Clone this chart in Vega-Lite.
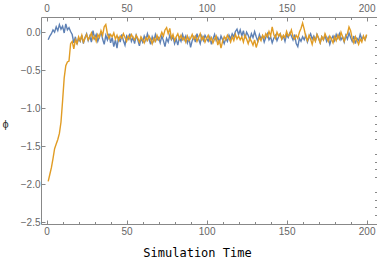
{
"$schema":"https://vega.github.io/schema/vega-lite/v6.json",
"autosize":"none",
"width":336,"height":207,
"padding":{"left":41,"top":17,"right":0,"bottom":35},
"config":{"view":{"stroke":null},"axis":{"grid":false,"domainColor":"#888","tickColor":"#888","labelColor":"#666","labelFont":"Liberation Sans","labelFontSize":10,"domainWidth":1,"tickWidth":1}},
"datasets":{"d":[
{"t":1,"b":-0.10,"o":-1.96},{"t":2,"b":-0.05,"o":-1.87},{"t":3,"b":-0.02,"o":-1.78},{"t":4,"b":0.03,"o":-1.66},{"t":5,"b":0.00,"o":-1.53},{"t":6,"b":0.07,"o":-1.47},{"t":7,"b":0.02,"o":-1.41},{"t":8,"b":0.10,"o":-1.33},{"t":9,"b":0.04,"o":-1.18},{"t":10,"b":0.08,"o":-0.90},
{"t":11,"b":-0.01,"o":-0.60},{"t":12,"b":0.11,"o":-0.44},{"t":13,"b":0.03,"o":-0.39},{"t":14,"b":0.06,"o":-0.38},{"t":15,"b":0.01,"o":-0.15},{"t":16,"b":-0.03,"o":-0.12},{"t":17,"b":-0.14,"o":-0.22},{"t":18,"b":-0.06,"o":-0.10},{"t":19,"b":-0.16,"o":-0.15},{"t":20,"b":-0.08,"o":-0.06},
{"t":21,"b":-0.12,"o":-0.11},{"t":22,"b":-0.04,"o":-0.04},{"t":23,"b":-0.15,"o":-0.13},{"t":24,"b":-0.07,"o":-0.08},{"t":25,"b":-0.02,"o":-0.03},{"t":26,"b":-0.11,"o":-0.10},{"t":27,"b":-0.05,"o":-0.06},{"t":28,"b":-0.13,"o":-0.01},{"t":29,"b":0.02,"o":-0.09},{"t":30,"b":-0.08,"o":-0.05},
{"t":31,"b":-0.03,"o":-0.12},{"t":32,"b":-0.12,"o":-0.03},{"t":33,"b":-0.06,"o":-0.07},{"t":34,"b":0.01,"o":0.02},{"t":35,"b":-0.09,"o":-0.04},{"t":36,"b":-0.16,"o":0.07},{"t":37,"b":-0.04,"o":0.10},{"t":38,"b":-0.10,"o":-0.02},{"t":39,"b":-0.02,"o":-0.08},{"t":40,"b":-0.14,"o":-0.03},
{"t":41,"b":-0.07,"o":-0.06},{"t":42,"b":-0.19,"o":-0.01},{"t":43,"b":-0.10,"o":-0.09},{"t":44,"b":-0.21,"o":-0.04},{"t":45,"b":-0.06,"o":-0.11},{"t":46,"b":-0.13,"o":-0.05},{"t":47,"b":-0.03,"o":-0.08},{"t":48,"b":-0.11,"o":-0.02},{"t":49,"b":-0.17,"o":-0.07},{"t":50,"b":-0.05,"o":-0.12},
{"t":51,"b":-0.09,"o":-0.05},{"t":52,"b":-0.02,"o":-0.09},{"t":53,"b":-0.12,"o":-0.03},{"t":54,"b":-0.07,"o":-0.07},{"t":55,"b":-0.15,"o":-0.10},{"t":56,"b":-0.04,"o":-0.04},{"t":57,"b":-0.10,"o":-0.08},{"t":58,"b":-0.18,"o":-0.13},{"t":59,"b":-0.08,"o":-0.06},{"t":60,"b":-0.13,"o":-0.10},
{"t":61,"b":-0.05,"o":-0.14},{"t":62,"b":-0.11,"o":-0.07},{"t":63,"b":-0.02,"o":-0.11},{"t":64,"b":-0.09,"o":-0.05},{"t":65,"b":-0.16,"o":-0.09},{"t":66,"b":-0.06,"o":-0.15},{"t":67,"b":-0.12,"o":-0.08},{"t":68,"b":-0.03,"o":-0.12},{"t":69,"b":-0.10,"o":-0.04},{"t":70,"b":-0.07,"o":-0.10},
{"t":71,"b":-0.14,"o":-0.06},{"t":72,"b":-0.05,"o":0.00},{"t":73,"b":-0.11,"o":-0.05},{"t":74,"b":-0.19,"o":0.03},{"t":75,"b":-0.08,"o":0.06},{"t":76,"b":-0.13,"o":-0.02},{"t":77,"b":-0.04,"o":0.05},{"t":78,"b":-0.10,"o":-0.08},{"t":79,"b":-0.06,"o":-0.03},{"t":80,"b":-0.15,"o":-0.11},
{"t":81,"b":-0.09,"o":-0.06},{"t":82,"b":-0.17,"o":-0.02},{"t":83,"b":-0.07,"o":-0.09},{"t":84,"b":-0.12,"o":-0.04},{"t":85,"b":-0.03,"o":-0.10},{"t":86,"b":-0.10,"o":-0.07},{"t":87,"b":-0.05,"o":-0.13},{"t":88,"b":-0.14,"o":-0.05},{"t":89,"b":-0.08,"o":-0.11},{"t":90,"b":-0.20,"o":-0.08},
{"t":91,"b":-0.11,"o":-0.03},{"t":92,"b":-0.06,"o":-0.09},{"t":93,"b":-0.13,"o":-0.05},{"t":94,"b":-0.02,"o":-0.12},{"t":95,"b":-0.09,"o":-0.07},{"t":96,"b":-0.15,"o":-0.02},{"t":97,"b":-0.05,"o":-0.10},{"t":98,"b":-0.11,"o":-0.06},{"t":99,"b":-0.04,"o":-0.13},{"t":100,"b":-0.08,"o":-0.08},
{"t":101,"b":-0.12,"o":-0.04},{"t":102,"b":-0.06,"o":-0.11},{"t":103,"b":-0.16,"o":-0.07},{"t":104,"b":-0.09,"o":-0.14},{"t":105,"b":-0.03,"o":-0.09},{"t":106,"b":-0.11,"o":-0.05},{"t":107,"b":-0.07,"o":-0.17},{"t":108,"b":-0.13,"o":-0.10},{"t":109,"b":-0.05,"o":-0.21},{"t":110,"b":-0.10,"o":-0.12},
{"t":111,"b":-0.15,"o":-0.06},{"t":112,"b":-0.08,"o":-0.10},{"t":113,"b":-0.12,"o":-0.04},{"t":114,"b":-0.04,"o":-0.08},{"t":115,"b":-0.09,"o":-0.13},{"t":116,"b":-0.02,"o":-0.06},{"t":117,"b":-0.06,"o":-0.11},{"t":118,"b":0.01,"o":-0.03},{"t":119,"b":0.04,"o":-0.09},{"t":120,"b":-0.03,"o":-0.05},
{"t":121,"b":0.03,"o":-0.10},{"t":122,"b":-0.05,"o":-0.06},{"t":123,"b":0.02,"o":-0.13},{"t":124,"b":-0.08,"o":-0.04},{"t":125,"b":0.00,"o":-0.09},{"t":126,"b":-0.04,"o":-0.15},{"t":127,"b":-0.10,"o":-0.08},{"t":128,"b":-0.02,"o":-0.12},{"t":129,"b":-0.07,"o":-0.17},{"t":130,"b":0.01,"o":-0.10},
{"t":131,"b":-0.06,"o":-0.20},{"t":132,"b":-0.12,"o":-0.13},{"t":133,"b":-0.03,"o":-0.07},{"t":134,"b":-0.09,"o":-0.11},{"t":135,"b":-0.05,"o":-0.04},{"t":136,"b":-0.13,"o":-0.08},{"t":137,"b":-0.07,"o":-0.02},{"t":138,"b":-0.02,"o":-0.06},{"t":139,"b":-0.10,"o":0.01},{"t":140,"b":-0.06,"o":-0.05},
{"t":141,"b":-0.14,"o":0.07},{"t":142,"b":-0.08,"o":-0.03},{"t":143,"b":-0.04,"o":-0.08},{"t":144,"b":-0.11,"o":0.00},{"t":145,"b":-0.06,"o":-0.05},{"t":146,"b":-0.02,"o":-0.02},{"t":147,"b":-0.09,"o":-0.09},{"t":148,"b":-0.05,"o":-0.04},{"t":149,"b":-0.12,"o":-0.07},{"t":150,"b":-0.03,"o":0.01},
{"t":151,"b":-0.07,"o":-0.05},{"t":152,"b":-0.01,"o":-0.03},{"t":153,"b":-0.05,"o":0.03},{"t":154,"b":-0.10,"o":-0.06},{"t":155,"b":-0.03,"o":-0.09},{"t":156,"b":-0.15,"o":-0.04},{"t":157,"b":-0.19,"o":-0.08},{"t":158,"b":-0.08,"o":0.00},{"t":159,"b":-0.12,"o":0.05},{"t":160,"b":-0.06,"o":0.12},
{"t":161,"b":-0.10,"o":0.04},{"t":162,"b":-0.04,"o":-0.06},{"t":163,"b":-0.13,"o":-0.11},{"t":164,"b":-0.07,"o":-0.04},{"t":165,"b":-0.02,"o":-0.09},{"t":166,"b":-0.09,"o":-0.16},{"t":167,"b":-0.05,"o":-0.07},{"t":168,"b":-0.11,"o":-0.12},{"t":169,"b":-0.03,"o":-0.03},{"t":170,"b":-0.08,"o":-0.08},
{"t":171,"b":-0.14,"o":-0.14},{"t":172,"b":-0.06,"o":-0.06},{"t":173,"b":-0.10,"o":-0.10},{"t":174,"b":-0.04,"o":-0.02},{"t":175,"b":-0.12,"o":-0.07},{"t":176,"b":-0.07,"o":-0.12},{"t":177,"b":-0.16,"o":-0.05},{"t":178,"b":-0.09,"o":-0.09},{"t":179,"b":-0.05,"o":-0.14},{"t":180,"b":-0.11,"o":-0.06},
{"t":181,"b":-0.03,"o":-0.11},{"t":182,"b":-0.08,"o":-0.04},{"t":183,"b":-0.02,"o":-0.09},{"t":184,"b":-0.10,"o":0.00},{"t":185,"b":-0.06,"o":-0.06},{"t":186,"b":-0.13,"o":-0.12},{"t":187,"b":-0.04,"o":-0.05},{"t":188,"b":-0.09,"o":-0.02},{"t":189,"b":-0.01,"o":0.07},{"t":190,"b":-0.07,"o":0.02},
{"t":191,"b":-0.12,"o":-0.08},{"t":192,"b":-0.05,"o":-0.14},{"t":193,"b":-0.15,"o":-0.06},{"t":194,"b":-0.08,"o":-0.11},{"t":195,"b":-0.11,"o":-0.16},{"t":196,"b":-0.03,"o":-0.09},{"t":197,"b":-0.09,"o":-0.13},{"t":198,"b":-0.06,"o":-0.05},{"t":199,"b":-0.10,"o":-0.10},{"t":200,"b":-0.04,"o":-0.03}
]},
"data":{"name":"d"},
"layer":[
{"mark":{"type":"line","color":"#5E81B5","strokeWidth":1.4,"clip":true},
 "encoding":{
  "x":{"field":"t","type":"quantitative","scale":{"domain":[-3.5,206.5],"nice":false,"zero":false},
   "axis":{"orient":"bottom","values":[0,50,100,150,200],"tickSize":-4,"labelPadding":6,"title":"Simulation Time","titleFont":"DejaVu Sans Mono","titleFontSize":12,"titleFontWeight":"normal","titleColor":"#000","titleX":156,"titleY":32,"titleAlign":"center","titleBaseline":"alphabetic"}},
  "y":{"field":"b","type":"quantitative","scale":{"domain":[-2.52,0.2],"nice":false,"zero":false},
   "axis":{"values":[-2.5,-2,-1.5,-1,-0.5,0],"format":".1f","tickSize":-4,"labelPadding":5,"title":"ϕ","titleAngle":0,"titleX":-36,"titleY":107,"titleAlign":"center","titleBaseline":"middle","titleFont":"Liberation Sans","titleFontSize":11,"titleFontWeight":"normal","titleColor":"#333"}}
 }},
{"mark":{"type":"line","color":"#E19C24","strokeWidth":1.4,"clip":true},
 "encoding":{
  "x":{"field":"t","type":"quantitative",
   "axis":{"orient":"bottom","values":[10,20,30,40,60,70,80,90,110,120,130,140,160,170,180,190],"tickSize":-2.5,"labels":false,"domain":false,"title":null}},
  "y":{"field":"o","type":"quantitative",
   "axis":{"values":[0.1,-0.1,-0.2,-0.3,-0.4,-0.6,-0.7,-0.8,-0.9,-1.1,-1.2,-1.3,-1.4,-1.6,-1.7,-1.8,-1.9,-2.1,-2.2,-2.3,-2.4],"tickSize":-2.5,"labels":false,"domain":false,"title":null}}
 }},
{"mark":{"type":"line","strokeOpacity":0},
 "encoding":{
  "x":{"field":"t","type":"quantitative",
   "axis":{"orient":"top","values":[0,50,100,150,200],"tickSize":-4,"labelPadding":8,"title":null}},
  "y":{"field":"b","type":"quantitative","axis":null}
 }},
{"mark":{"type":"line","strokeOpacity":0},
 "encoding":{
  "x":{"field":"t","type":"quantitative",
   "axis":{"orient":"top","values":[10,20,30,40,60,70,80,90,110,120,130,140,160,170,180,190],"tickSize":-2.5,"labels":false,"domain":false,"title":null}},
  "y":{"field":"b","type":"quantitative","axis":null}
 }}
],
"resolve":{"axis":{"x":"independent","y":"independent"}}
}
